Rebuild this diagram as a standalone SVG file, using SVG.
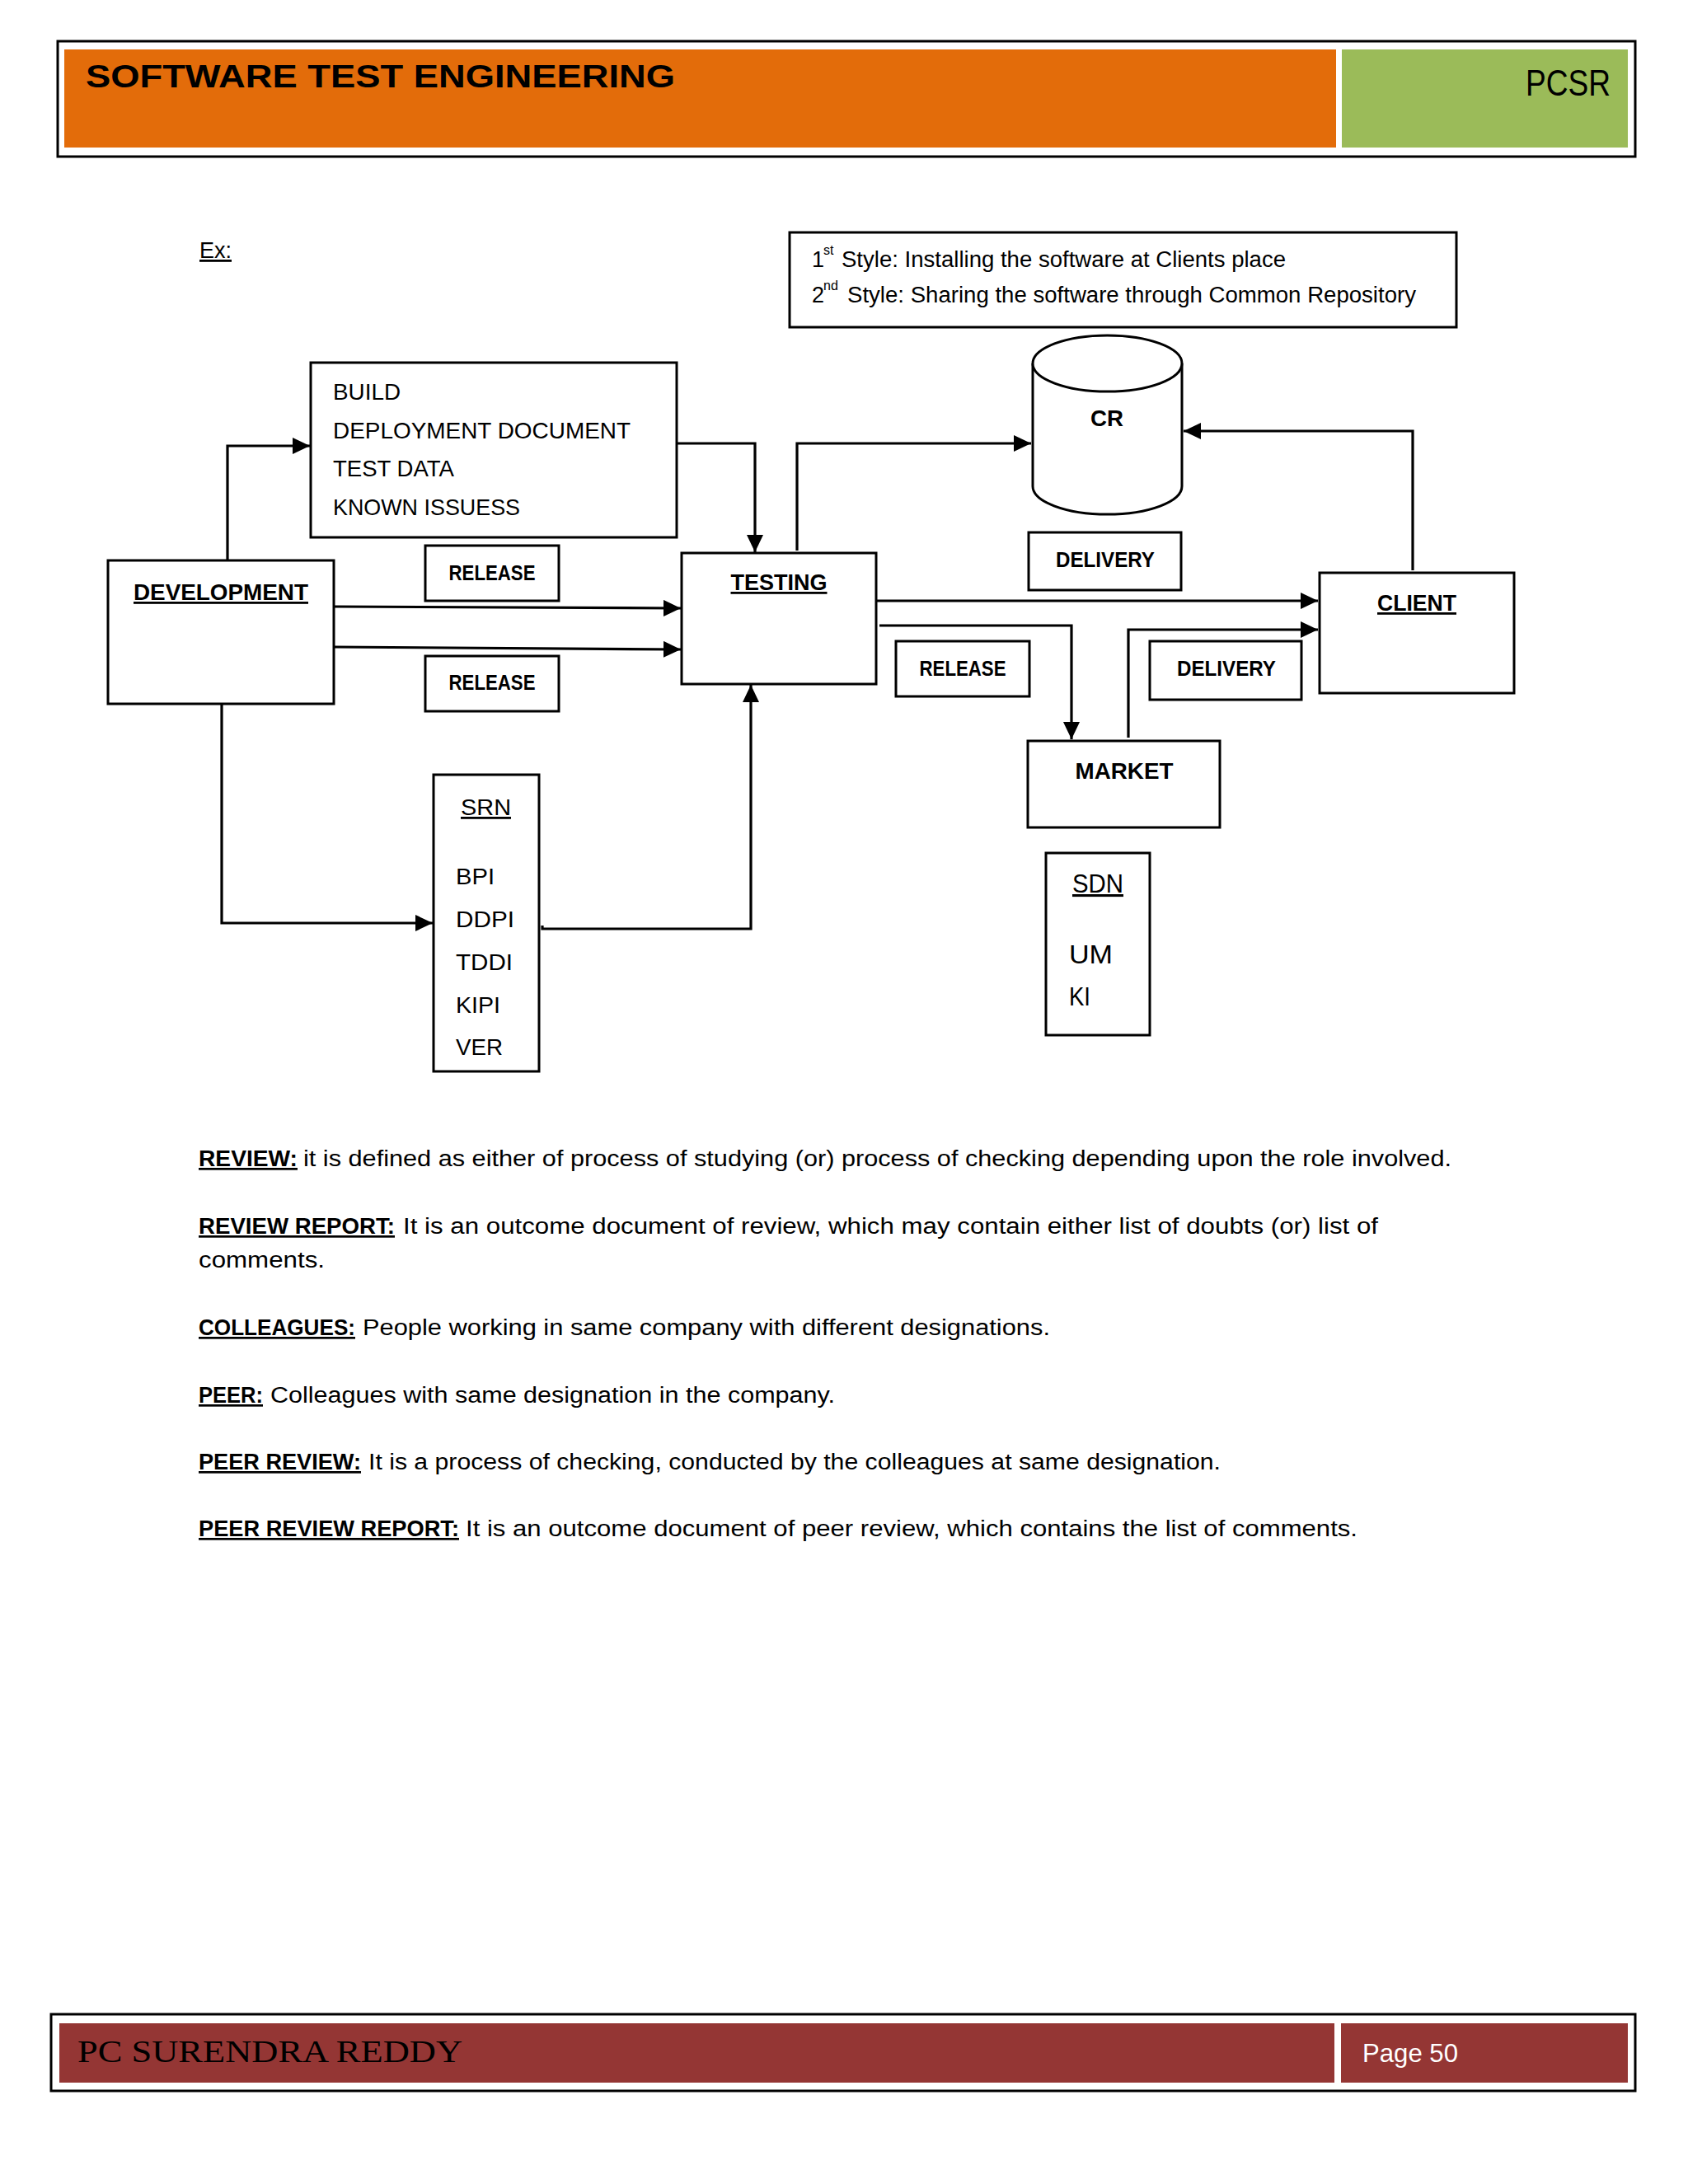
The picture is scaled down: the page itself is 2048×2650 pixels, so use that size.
<svg xmlns="http://www.w3.org/2000/svg" width="2048" height="2650" viewBox="0 0 2048 2650">
<defs>
<style>
.box{fill:#fff;stroke:#000;stroke-width:3}
.con{fill:none;stroke:#000;stroke-width:3.2}
.t{font-family:"Liberation Sans",Arial,sans-serif;fill:#000}
.n{font-size:28px}
.b{font-size:26px;font-weight:bold}
.bb{font-size:28px;font-weight:bold}
.p{font-size:27px}
.pb{font-size:27px;font-weight:bold;text-decoration:underline}
.u{text-decoration:underline}
</style>
<marker id="ah" markerUnits="userSpaceOnUse" markerWidth="22" markerHeight="20" refX="21" refY="10" orient="auto">
<path d="M0,0 L21,10 L0,20 z" fill="#000"/>
</marker>
</defs>
<rect width="2048" height="2650" fill="#fff"/>

<g id="header">
<rect x="70" y="50" width="1914" height="140" fill="none" stroke="#000" stroke-width="3"/>
<rect x="78" y="60" width="1543" height="119" fill="#E36C0A"/>
<rect x="1628" y="60" width="347" height="119" fill="#9BBB59"/>
<text class="t" x="104" y="106" font-size="38" font-weight="bold" textLength="715" lengthAdjust="spacingAndGlyphs">SOFTWARE TEST ENGINEERING</text>
<text class="t" x="1851" y="116" font-size="44" textLength="103" lengthAdjust="spacingAndGlyphs">PCSR</text>
</g>

<g id="footer">
<rect x="62" y="2444" width="1922" height="93" fill="none" stroke="#000" stroke-width="3"/>
<rect x="72" y="2455" width="1547" height="72" fill="#943634"/>
<rect x="1627" y="2455" width="348" height="72" fill="#943634"/>
<text x="94" y="2502" font-family="'Liberation Serif',serif" font-size="38" fill="#000" textLength="467" lengthAdjust="spacingAndGlyphs">PC SURENDRA REDDY</text>
<text class="t" x="1653" y="2502" font-size="32" fill="#fff" style="fill:#fff" textLength="116" lengthAdjust="spacingAndGlyphs">Page 50</text>
</g>

<g id="ex-label">
<text class="t n u" x="242" y="313" textLength="39" lengthAdjust="spacingAndGlyphs">Ex:</text>
</g>

<g id="style-note">
<rect class="box" x="958" y="282" width="809" height="115"/>
<text class="t p" x="985" y="324">1</text>
<text class="t" x="999" y="309" font-size="16">st</text>
<text class="t p" x="1021" y="324" textLength="539" lengthAdjust="spacingAndGlyphs">Style: Installing the software at Clients place</text>
<text class="t p" x="985" y="367">2</text>
<text class="t" x="999" y="352" font-size="16">nd</text>
<text class="t p" x="1028" y="367" textLength="690" lengthAdjust="spacingAndGlyphs">Style: Sharing the software through Common Repository</text>
</g>

<g id="connectors">
<path class="con" d="M276,680 V541 H376" marker-end="url(#ah)"/>
<path class="con" d="M821,538 H916 V670" marker-end="url(#ah)"/>
<path class="con" d="M405,736 L826,738" marker-end="url(#ah)"/>
<path class="con" d="M405,785 L826,788" marker-end="url(#ah)"/>
<path class="con" d="M269,854 V1120 H525" marker-end="url(#ah)"/>
<path class="con" d="M658,1123 V1127 H911 V831" marker-end="url(#ah)"/>
<path class="con" d="M967,668 V538 H1251" marker-end="url(#ah)"/>
<path class="con" d="M1714,692 V523 H1436" marker-end="url(#ah)"/>
<path class="con" d="M1063,729 H1599" marker-end="url(#ah)"/>
<path class="con" d="M1067,759 H1300 V897" marker-end="url(#ah)"/>
<path class="con" d="M1369,895 V764 H1599" marker-end="url(#ah)"/>
</g>

<g id="build">
<rect class="box" x="377" y="440" width="444" height="212"/>
<text class="t n" x="404" y="485" textLength="82" lengthAdjust="spacingAndGlyphs">BUILD</text>
<text class="t n" x="404" y="532" textLength="361" lengthAdjust="spacingAndGlyphs">DEPLOYMENT DOCUMENT</text>
<text class="t n" x="404" y="578" textLength="147" lengthAdjust="spacingAndGlyphs">TEST DATA</text>
<text class="t n" x="404" y="625" textLength="227" lengthAdjust="spacingAndGlyphs">KNOWN ISSUESS</text>
</g>

<g id="development">
<rect class="box" x="131" y="680" width="274" height="174"/>
<text class="t bb u" x="162" y="728" textLength="212" lengthAdjust="spacingAndGlyphs">DEVELOPMENT</text>
</g>

<g id="release-1">
<rect class="box" x="516" y="662" width="162" height="67"/>
<text class="t b" x="597" y="704" text-anchor="middle" textLength="105" lengthAdjust="spacingAndGlyphs">RELEASE</text>
</g>

<g id="release-2">
<rect class="box" x="516" y="796" width="162" height="67"/>
<text class="t b" x="597" y="837" text-anchor="middle" textLength="105" lengthAdjust="spacingAndGlyphs">RELEASE</text>
</g>

<g id="testing">
<rect class="box" x="827" y="671" width="236" height="159"/>
<text class="t bb u" x="945" y="716" text-anchor="middle" textLength="117" lengthAdjust="spacingAndGlyphs">TESTING</text>
</g>

<g id="srn">
<rect class="box" x="526" y="940" width="128" height="360"/>
<text class="t n u" x="559" y="989" font-size="31" textLength="61" lengthAdjust="spacingAndGlyphs">SRN</text>
<text class="t n" x="553" y="1073" font-size="31" textLength="47" lengthAdjust="spacingAndGlyphs">BPI</text>
<text class="t n" x="553" y="1125" font-size="31" textLength="71" lengthAdjust="spacingAndGlyphs">DDPI</text>
<text class="t n" x="553" y="1177" font-size="31" textLength="69" lengthAdjust="spacingAndGlyphs">TDDI</text>
<text class="t n" x="553" y="1229" font-size="31" textLength="54" lengthAdjust="spacingAndGlyphs">KIPI</text>
<text class="t n" x="553" y="1280" font-size="31" textLength="57" lengthAdjust="spacingAndGlyphs">VER</text>
</g>

<g id="cr">
<path class="box" d="M1253,441 V590 A90.5,34 0 0 0 1434,590 V441"/>
<ellipse class="box" cx="1343.5" cy="441" rx="90.5" ry="34"/>
<text class="t bb" x="1343" y="517" font-size="30" text-anchor="middle" textLength="40" lengthAdjust="spacingAndGlyphs">CR</text>
</g>

<g id="delivery-1">
<rect class="box" x="1248" y="646" width="185" height="70"/>
<text class="t b" x="1341" y="688" text-anchor="middle" textLength="120" lengthAdjust="spacingAndGlyphs">DELIVERY</text>
</g>

<g id="release-3">
<rect class="box" x="1087" y="778" width="162" height="67"/>
<text class="t b" x="1168" y="820" text-anchor="middle" textLength="105" lengthAdjust="spacingAndGlyphs">RELEASE</text>
</g>

<g id="delivery-2">
<rect class="box" x="1395" y="778" width="184" height="71"/>
<text class="t b" x="1488" y="820" text-anchor="middle" textLength="120" lengthAdjust="spacingAndGlyphs">DELIVERY</text>
</g>

<g id="client">
<rect class="box" x="1601" y="695" width="236" height="146"/>
<text class="t bb u" x="1719" y="741" text-anchor="middle" textLength="96" lengthAdjust="spacingAndGlyphs">CLIENT</text>
</g>

<g id="market">
<rect class="box" x="1247" y="899" width="233" height="105"/>
<text class="t bb" x="1364" y="945" text-anchor="middle" textLength="119" lengthAdjust="spacingAndGlyphs">MARKET</text>
</g>

<g id="sdn">
<rect class="box" x="1269" y="1035" width="126" height="221"/>
<text class="t u" x="1301" y="1083" font-size="31" textLength="62" lengthAdjust="spacingAndGlyphs">SDN</text>
<text class="t" x="1297" y="1169" font-size="31" textLength="53" lengthAdjust="spacingAndGlyphs">UM</text>
<text class="t" x="1297" y="1220" font-size="31" textLength="26" lengthAdjust="spacingAndGlyphs">KI</text>
</g>

<g id="definitions">
<text class="t pb" x="241" y="1415" textLength="120" lengthAdjust="spacingAndGlyphs">REVIEW:</text>
<text class="t p" x="368" y="1415" textLength="1393" lengthAdjust="spacingAndGlyphs">it is defined as either of process of studying (or) process of checking depending upon the role involved.</text>
<text class="t pb" x="241" y="1497" textLength="238" lengthAdjust="spacingAndGlyphs">REVIEW REPORT:</text>
<text class="t p" x="489" y="1497" textLength="1183" lengthAdjust="spacingAndGlyphs">It is an outcome document of review, which may contain either list of doubts (or) list of</text>
<text class="t p" x="241" y="1538" textLength="153" lengthAdjust="spacingAndGlyphs">comments.</text>
<text class="t pb" x="241" y="1620" textLength="190" lengthAdjust="spacingAndGlyphs">COLLEAGUES:</text>
<text class="t p" x="440" y="1620" textLength="834" lengthAdjust="spacingAndGlyphs">People working in same company with different designations.</text>
<text class="t pb" x="241" y="1702" textLength="78" lengthAdjust="spacingAndGlyphs">PEER:</text>
<text class="t p" x="328" y="1702" textLength="685" lengthAdjust="spacingAndGlyphs">Colleagues with same designation in the company.</text>
<text class="t pb" x="241" y="1783" textLength="197" lengthAdjust="spacingAndGlyphs">PEER REVIEW:</text>
<text class="t p" x="447" y="1783" textLength="1034" lengthAdjust="spacingAndGlyphs">It is a process of checking, conducted by the colleagues at same designation.</text>
<text class="t pb" x="241" y="1864" textLength="316" lengthAdjust="spacingAndGlyphs">PEER REVIEW REPORT:</text>
<text class="t p" x="565" y="1864" textLength="1082" lengthAdjust="spacingAndGlyphs">It is an outcome document of peer review, which contains the list of comments.</text>
</g>
</svg>
